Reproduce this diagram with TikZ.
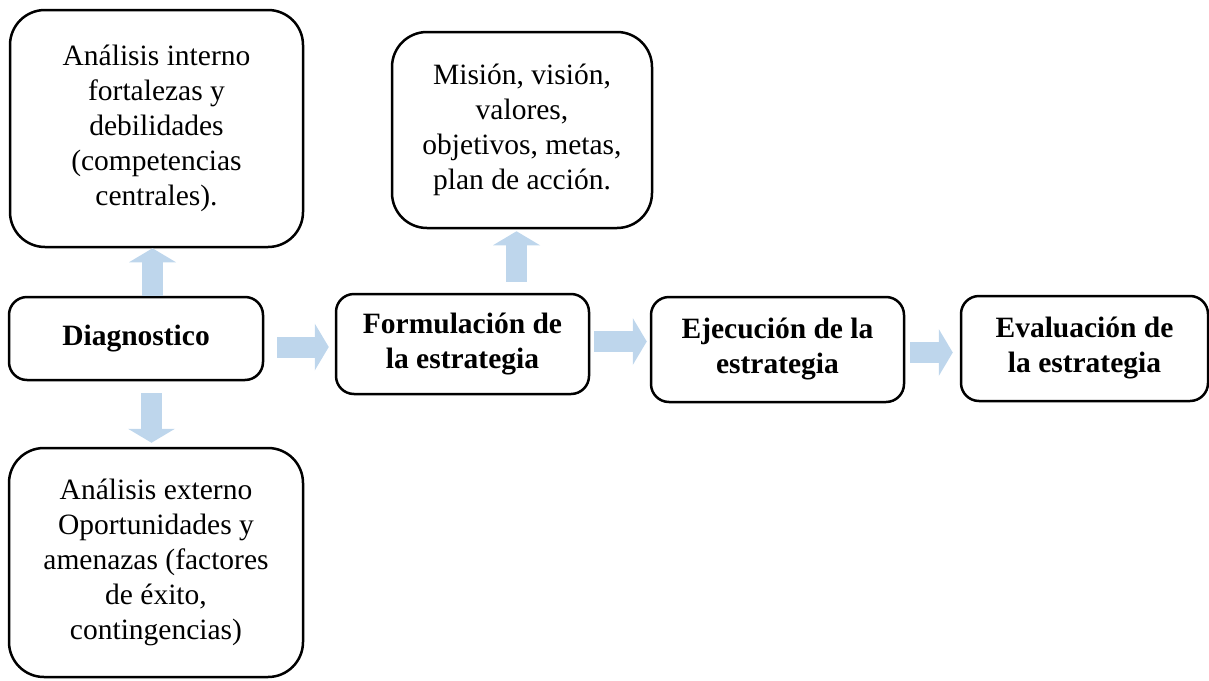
\documentclass[tikz,border=0pt]{standalone}
\usepackage{fontspec}
\setmainfont{Liberation Serif}
\usetikzlibrary{arrows.meta}

\definecolor{azulclaro}{RGB}{190,214,236}

\begin{document}
\begin{tikzpicture}[x=1pt,y=-1pt,
  caja/.style={draw, line width=2.5pt, align=center, inner sep=0pt,
    font=\fontsize{29.5}{35}\selectfont},
  grande/.style={caja, rounded corners=35pt},
  chica/.style={caja, rounded corners=18pt, font=\fontsize{29.5}{35}\selectfont\bfseries},
  flecha/.style={draw=azulclaro, line width=21pt,
    -{Triangle[width=47pt,length=14pt,line width=0pt,color=azulclaro]}}]
\useasboundingbox (0,0) rectangle (1209,680);

% cajas
\node[grande, minimum width=293pt, minimum height=237pt] (interno) at (156.5,128.5)
  {An\'alisis interno\\fortalezas y\\debilidades\\(competencias\\centrales).};
\node[chica, minimum width=254pt, minimum height=83pt] (diag) at (136,338.5) {Diagnostico};
\node[grande, minimum width=294pt, minimum height=229pt] (externo) at (156,562.5)
  {An\'alisis externo\\Oportunidades y\\amenazas (factores\\de \'exito,\\contingencias)};
\node[chica, minimum width=253pt, minimum height=100pt] (formul) at (462.5,344)
  {Formulaci\'on de\\la estrategia};
\node[grande, minimum width=260pt, minimum height=196pt] (mision) at (522,130)
  {Misi\'on, visi\'on,\\valores,\\objetivos, metas,\\plan de acci\'on.};
\node[chica, minimum width=253pt, minimum height=105pt] (ejec) at (777.5,349.5)
  {Ejecuci\'on de la\\estrategia};
\node[chica, minimum width=247pt, minimum height=105pt] (evalu) at (1084.5,348.5)
  {Evaluaci\'on de\\la estrategia};

% flechas
\draw[flecha] ([xshift=16.5pt]diag.north) -- ([xshift=-4pt]interno.south);
\draw[flecha] ([shift={(15.5pt,-12pt)}]diag.south) -- ([shift={(-4.5pt,4pt)}]externo.north);
\draw[flecha] ([shift={(13pt,-8.5pt)}]diag.east) -- ([shift={(-6pt,-3pt)}]formul.west);
\draw[flecha] ([shift={(54pt,11pt)}]formul.north) -- ([shift={(-5.5pt,-2pt)}]mision.south);
\draw[flecha] ([shift={(4pt,2.5pt)}]formul.east) -- ([shift={(-3pt,8pt)}]ejec.west);
\draw[flecha] ([shift={(5pt,-3pt)}]ejec.east) -- ([shift={(-7pt,-4pt)}]evalu.west);
\end{tikzpicture}
\end{document}
